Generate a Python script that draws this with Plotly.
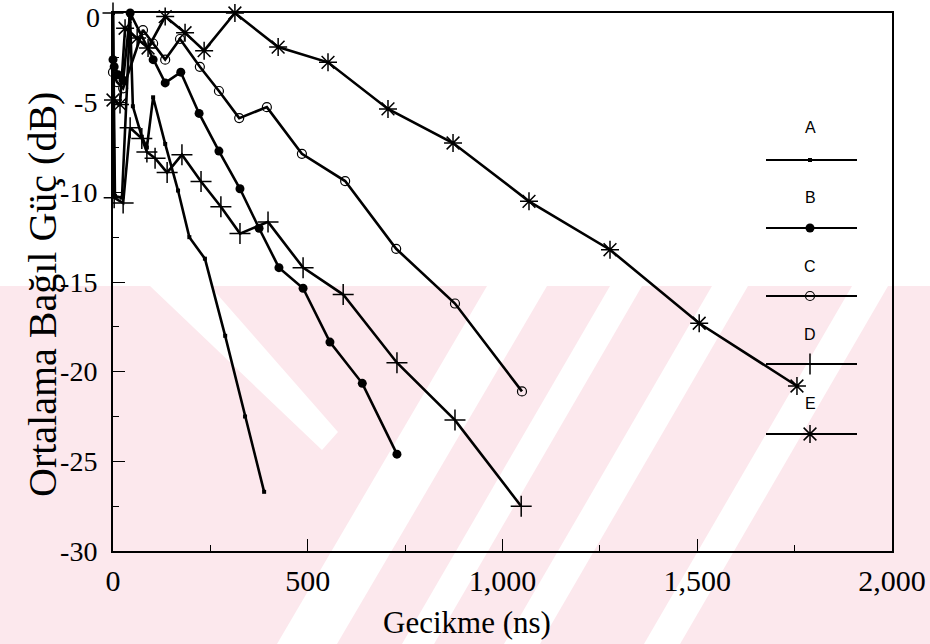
import plotly.graph_objects as go

# ---------------- data ----------------
a_x = [0, 5, 23, 44, 51, 74, 87, 103, 134, 167, 196, 236, 288, 339, 388]
a_y = [0, -10.2, -10.3, -0.3, -5.2, -6.9, -7.5, -4.7, -7.3, -9.9, -12.5, -13.7, -18.0, -22.5, -26.7]

b_x = [0, 3, 13, 26, 44, 103, 134, 174, 221, 272, 326, 375, 426, 488, 557, 640, 729]
b_y = [-2.6, -3.0, -3.45, -3.75, 0, -2.6, -3.9, -3.3, -5.6, -7.7, -9.8, -12.0, -14.2, -15.35, -18.35, -20.65, -24.6]

c_x = [0, 10, 26, 77, 103, 134, 172, 223, 272, 324, 395, 485, 596, 727, 878, 1050]
c_y = [-3.3, -3.85, -4.2, -0.95, -1.7, -2.6, -1.45, -3.0, -4.35, -5.86, -5.25, -7.85, -9.37, -13.15, -16.2, -21.1]

d_x = [0, 3, 26, 44, 74, 87, 108, 139, 177, 226, 277, 326, 398, 488, 591, 729, 878, 1048]
d_y = [0, -10.3, -10.6, -6.4, -7.0, -7.75, -8.1, -8.9, -7.9, -9.4, -10.8, -12.3, -11.65, -14.2, -15.7, -19.5, -22.7, -27.5]

e_x = [0, 18, 31, 62, 90, 134, 185, 234, 313, 424, 552, 706, 873, 1068, 1276, 1505, 1756]
e_y = [-4.85, -5.1, -0.85, -1.4, -1.95, -0.2, -1.1, -2.1, 0, -1.9, -2.75, -5.35, -7.25, -10.5, -13.2, -17.3, -20.8]

series_names = ["A", "B", "C", "D", "E"]
x_ticks = [0, 500, 1000, 1500, 2000]
x_tick_text = ["0", "500", "1,000", "1,500", "2,000"]
y_ticks = [0, -5, -10, -15, -20, -25, -30]
y_tick_text = ["", "-5", "-10", "-15", "-20", "-25", "-30"]   # the top "0" is placed separately
y_top_label = "0"

# ---------------- geometry helpers (pixel -> paper) ----------------
W, H = 930, 644
PL, PR, PT, PB = 113, 892, 13, 551   # plot box in pixels


def px(x):
    return (x - PL) / (PR - PL)


def py(y):
    return (PB - y) / (PB - PT)


# ---------------- style ----------------
styles = {
    "A": dict(symbol="square", size=4, color="black", line=dict(width=0)),
    "B": dict(symbol="circle", size=9, color="black", line=dict(width=0)),
    "C": dict(symbol="circle-open", size=9, color="black", line=dict(width=1.2, color="black")),
    "D": dict(symbol="cross-thin-open", size=15, color="black", line=dict(width=1.5, color="black")),
    "E": dict(symbol="asterisk-open", size=15, color="black", line=dict(width=1.5, color="black")),
}
data = {"A": (a_x, a_y), "B": (b_x, b_y), "C": (c_x, c_y), "D": (d_x, d_y), "E": (e_x, e_y)}

fig = go.Figure()

# faint pink watermark in the lower part of the page (background decoration)
PINK = "#fce8ed"
fig.add_shape(type="rect", xref="paper", yref="paper", layer="below",
              x0=px(0), x1=px(W), y0=py(H), y1=py(286),
              fillcolor=PINK, line=dict(width=0))
white_stripes = [
    [(150, 286), (210, 286), (338, 432), (322, 450)],
    [(487, 286), (547, 286), (337, 644), (277, 644)],
    [(610, 286), (642, 286), (434, 644), (402, 644)],
    [(712, 286), (748, 286), (540, 644), (504, 644)],
    [(852, 286), (888, 286), (680, 644), (644, 644)],
]
for poly in white_stripes:
    path = "M " + " L ".join(f"{px(x):.4f},{py(y):.4f}" for x, y in poly) + " Z"
    fig.add_shape(type="path", xref="paper", yref="paper", layer="below", path=path,
                  fillcolor="white", line=dict(width=0))

for n in series_names:
    xs, ys = data[n]
    fig.add_trace(go.Scatter(x=xs, y=ys, mode="lines+markers", name=n,
                             line=dict(color="black", width=2.6),
                             marker=styles[n], showlegend=False, cliponaxis=False))

# custom legend (drawn inside the plot, labels above each sample line)
leg_line_y = [160, 228, 296, 364, 434]
leg_lab_y = [127, 197, 266, 334, 403]
for n, ly, ty in zip(series_names, leg_line_y, leg_lab_y):
    fig.add_shape(type="line", xref="paper", yref="paper", x0=px(766), x1=px(857),
                  y0=py(ly), y1=py(ly), line=dict(color="black", width=2))
    fig.add_annotation(xref="paper", yref="paper", x=px(810), y=py(ty), text=n, showarrow=False,
                       xanchor="center", yanchor="middle",
                       font=dict(family="Liberation Sans, Arial", size=16, color="black"))
    fig.add_trace(go.Scatter(x=[px(810)], y=[py(ly)], xaxis="x2", yaxis="y2", mode="markers",
                             marker=styles[n], showlegend=False, hoverinfo="skip"))

serif = "Liberation Serif, Times New Roman"

# top y tick label, nudged down slightly so it stays inside the page
fig.add_annotation(xref="paper", yref="paper", x=px(102), y=py(17), text=y_top_label,
                   showarrow=False, xanchor="right", yanchor="middle",
                   font=dict(family=serif, size=28, color="black"))

# axis titles as annotations positioned like the reference
fig.add_annotation(xref="paper", yref="paper", x=px(467), y=py(622), text="Gecikme (ns)",
                   showarrow=False, xanchor="center", yanchor="middle",
                   font=dict(family=serif, size=31, color="black"))
fig.add_annotation(xref="paper", yref="paper", x=px(42), y=py(295), text="Ortalama Bağıl Güç (dB)",
                   showarrow=False, textangle=-90, xanchor="center", yanchor="middle",
                   font=dict(family=serif, size=40, color="black"))

fig.update_layout(
    template="none",
    width=W, height=H,
    margin=dict(l=PL, r=W - PR, t=PT, b=H - PB, autoexpand=False),
    paper_bgcolor="white", plot_bgcolor="rgba(0,0,0,0)",
    xaxis=dict(range=[0, 2000], tickvals=x_ticks, ticktext=x_tick_text, ticks="inside",
               ticklen=12, tickwidth=1, tickcolor="black", showgrid=False, zeroline=False,
               showline=True, linecolor="black", linewidth=2, mirror=True, automargin=False,
               minor=dict(dtick=250, ticks="inside", ticklen=6, tickcolor="black", showgrid=False),
               tickfont=dict(family=serif, size=30, color="black"),
               ticklabeloverflow="allow", ticklabelstandoff=2),
    yaxis=dict(range=[-30, 0], tickvals=y_ticks, ticktext=y_tick_text, ticks="inside",
               ticklen=12, tickwidth=1, tickcolor="black", showgrid=False, zeroline=False,
               showline=True, linecolor="black", linewidth=2, mirror=True, automargin=False,
               minor=dict(dtick=2.5, ticks="inside", ticklen=6, tickcolor="black", showgrid=False),
               tickfont=dict(family=serif, size=28, color="black"),
               ticklabeloverflow="allow", ticklabelstandoff=8),
    xaxis2=dict(domain=[0, 1], range=[0, 1], overlaying="x", visible=False),
    yaxis2=dict(domain=[0, 1], range=[0, 1], overlaying="y", visible=False),
)

# remove the browser's default 8px body margin so the figure fills the window exactly
fig.write_html("out.html", config={"displayModeBar": False},
               post_script="document.body.style.margin='0';")
